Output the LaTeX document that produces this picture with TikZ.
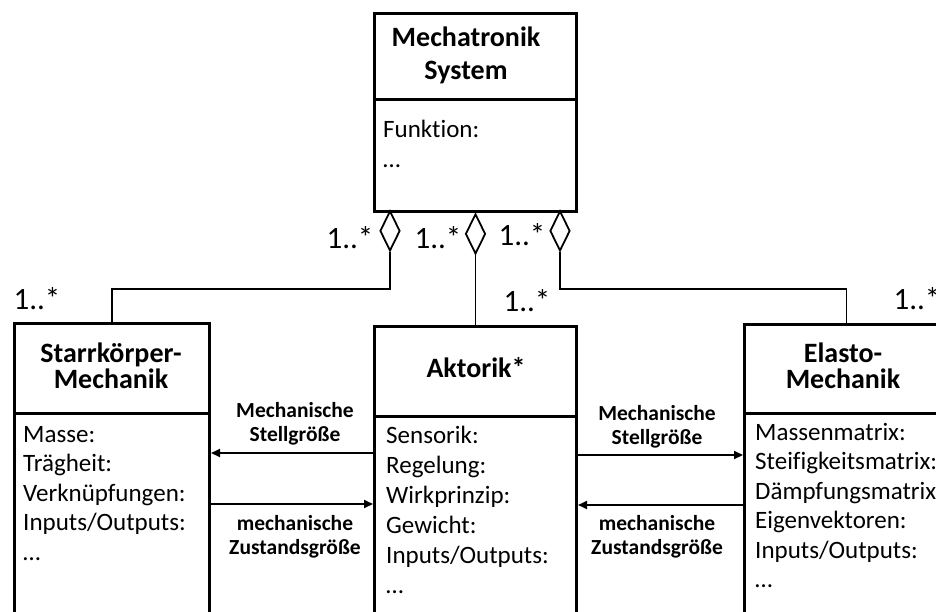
\documentclass[tikz,border=0pt]{standalone}
\usepackage{fontspec}
\setmainfont{Carlito}[Ligatures=NoCommon]
\usetikzlibrary{arrows.meta,shapes.geometric}
\begin{document}
% multi-line nodes are anchored at the baseline of their last line
\begin{tikzpicture}[x=1pt,y=-1pt,
  classbox/.style={draw,line width=3pt,inner sep=0pt,anchor=north west,minimum height=400pt},
  divider/.style={line width=3pt},
  title/.style={font=\fontsize{28}{26}\selectfont\bfseries,align=center,inner sep=0pt,anchor=base},
  attrs/.style={font=\fontsize{25}{29.5}\selectfont,align=left,inner sep=0pt,anchor=base west},
  mult/.style={font=\fontsize{31}{31}\selectfont,inner sep=0pt,anchor=base},
  flowlabel/.style={font=\fontsize{21.5}{24}\selectfont\bfseries,align=center,inner sep=0pt,anchor=base},
  aggr/.style={draw,shape=diamond,line width=1.8pt,fill=white,inner sep=0pt,minimum width=20pt,minimum height=40pt,anchor=north},
  link/.style={line width=1.5pt},
  flow/.style={line width=2pt,-{Triangle[length=9pt,width=8pt]}}
]
\useasboundingbox (0,0) rectangle (936,612);
\clip (0,0) rectangle (936,612);

% top class: mechatronic system
\node[classbox,minimum width=202pt,minimum height=198pt] (sys) at (373,12) {};
\draw[divider] (sys.west |- 0,100) -- (sys.east |- 0,100);
\node[title,font=\fontsize{28}{33}\selectfont\bfseries] (sysT) at (466,80) {Mechatronik\\System};
\node[attrs,font=\fontsize{25}{30}\selectfont] (sysA) at (383,168) {Funktion:\\…};

% aggregation diamonds below the system class
\node[aggr] (agS) at (390,210) {};
\node[aggr] (agA) at (sys.south) {};
\node[aggr] (agE) at (560,210) {};

% rigid body mechanics
\node[classbox,minimum width=195pt] (rigid) at (13,322) {};
\draw[divider] (rigid.west |- 0,413) -- (rigid.east |- 0,413);
\node[title] (rigidT) at (111,388) {Starrkörper-\\Mechanik};
\node[attrs] (rigidA) at (23,560) {Masse:\\Trägheit:\\Verknüpfungen:\\Inputs/Outputs:\\…};

% actuators
\node[classbox,minimum width=202pt] (act) at (373,325) {};
\draw[divider] (act.west |- 0,416) -- (act.east |- 0,416);
\node[title] (actT) at (476,377) {Aktorik*};
\node[attrs,font=\fontsize{25}{30}\selectfont] (actA) at (386,593) {Sensorik:\\Regelung:\\Wirkprinzip:\\Gewicht:\\Inputs/Outputs:\\…};

% elastic mechanics
\node[classbox,minimum width=204pt] (elast) at (743,323) {};
\draw[divider] (elast.west |- 0,413) -- (elast.east |- 0,413);
\node[title] (elastT) at (843,388) {Elasto-\\Mechanik};
\node[attrs] (elastA) at (755,587.5) {Massenmatrix:\\Steifigkeitsmatrix:\\Dämpfungsmatrix:\\Eigenvektoren:\\Inputs/Outputs:\\…};

% aggregation links
\draw[link] (agS.south) -- ++(0,37) -| (rigid.north);
\draw[link] (agA.south) -- (act.north);
\draw[link] (agE.south) -- ++(0,37) -| (elast.north);

% multiplicities
\node[mult] (m1) at (350,248) {1..*};
\node[mult] (m2) at (438,248) {1..*};
\node[mult] (m3) at (522,246) {1..*};
\node[mult] (m4) at (37,309) {1..*};
\node[mult] (m5) at (527,311) {1..*};
\node[mult] (m6) at (917,309) {1..*};

% signal flows between the classes
\draw[flow] (act.west |- 0,453) -- (rigid.east |- 0,453);
\draw[flow] (rigid.east |- 0,504) -- (act.west |- 0,504);
\draw[flow] (act.east |- 0,455) -- (elast.west |- 0,455);
\draw[flow] (elast.west |- 0,505) -- (act.east |- 0,505);

\node[flowlabel] (fl1) at (295,441) {Mechanische\\Stellgröße};
\node[flowlabel] (fl2) at (295,554) {mechanische\\Zustandsgröße};
\node[flowlabel] (fl3) at (657,444) {Mechanische\\Stellgröße};
\node[flowlabel] (fl4) at (657,554) {mechanische\\Zustandsgröße};
\end{tikzpicture}
\end{document}
